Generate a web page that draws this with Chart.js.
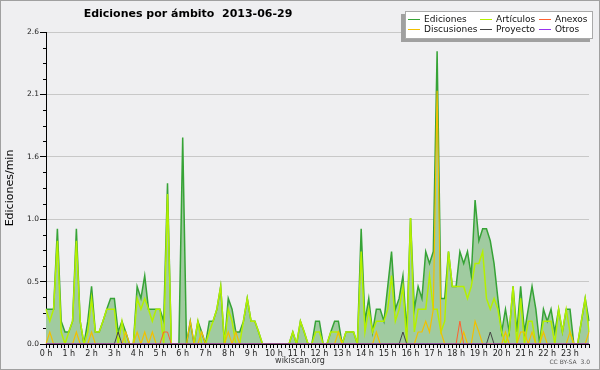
<!DOCTYPE html>
<html>
<head>
<meta charset="utf-8">
<script src="https://cdn.jsdelivr.net/npm/chart.js@4.4.1/dist/chart.umd.min.js"></script>
<style>
  html, body { margin: 0; padding: 0; background: #efeff1; }
  #wrap { position: relative; width: 600px; height: 370px; }
</style>
</head>
<body>
<div id="wrap"><canvas id="chart" width="600" height="370"></canvas></div>
<script>
// horas del eje X (una categoría cada 10 minutos)
const HOUR_LABELS = ['0 h', '1 h', '2 h', '3 h', '4 h', '5 h', '6 h', '7 h', '8 h', '9 h', '10 h', '11 h',
  '12 h', '13 h', '14 h', '15 h', '16 h', '17 h', '18 h', '19 h', '20 h', '21 h', '22 h', '23 h'];
const MINUTES = ['00', '10', '20', '30', '40', '50'];

// eje Y: marcas principales y sus etiquetas
const Y_TICKS = [0, 0.52, 1.04, 1.56, 2.08, 2.6];
const Y_TICK_LABELS = ['0.0', '0.5', '1.0', '1.6', '2.1', '2.6'];
const Y_MINOR_TICKS = [0.13, 0.26, 0.39, 0.65, 0.78, 0.91, 1.17, 1.3, 1.43, 1.69, 1.82, 1.95, 2.21, 2.34, 2.47];

// ediciones/min, una fila por hora
const EDICIONES = [
  0.29, 0.29, 0.29, 0.96, 0.19, 0.1,
  0.1, 0.19, 0.96, 0.19, 0, 0.19,
  0.48, 0.1, 0.1, 0.19, 0.29, 0.38,
  0.38, 0.1, 0.19, 0.1, 0, 0,
  0.48, 0.38, 0.57, 0.29, 0.29, 0.29,
  0.29, 0.19, 1.34, 0, 0, 0,
  1.72, 0, 0.19, 0, 0.19, 0.1,
  0, 0.19, 0.19, 0.29, 0.48, 0,
  0.38, 0.29, 0.1, 0.1, 0.19, 0.38,
  0.19, 0.19, 0.1, 0, 0, 0,
  0, 0, 0, 0, 0, 0.1,
  0, 0.19, 0.1, 0, 0, 0.19,
  0.19, 0, 0, 0.1, 0.19, 0.19,
  0, 0.1, 0.1, 0.1, 0, 0.96,
  0.19, 0.38, 0.1, 0.29, 0.29, 0.19,
  0.48, 0.77, 0.29, 0.38, 0.57, 0.1,
  1.05, 0.29, 0.48, 0.38, 0.77, 0.67,
  0.77, 2.44, 0.38, 0.38, 0.77, 0.48,
  0.48, 0.77, 0.67, 0.77, 0.57, 1.2,
  0.86, 0.96, 0.96, 0.86, 0.67, 0.38,
  0.1, 0.29, 0.1, 0.48, 0.1, 0.48,
  0.1, 0.29, 0.48, 0.29, 0, 0.29,
  0.19, 0.29, 0.1, 0.29, 0.1, 0.29,
  0.29, 0, 0, 0.19, 0.38, 0.19
];
const ARTICULOS = [
  0.29, 0.19, 0.29, 0.86, 0.1, 0,
  0.1, 0.19, 0.86, 0.19, 0, 0.1,
  0.38, 0.1, 0.1, 0.19, 0.29, 0.29,
  0.29, 0, 0.19, 0, 0, 0,
  0.38, 0.29, 0.38, 0.29, 0.19, 0.29,
  0.29, 0, 1.25, 0, 0, 0,
  0, 0, 0, 0, 0.19, 0,
  0, 0.1, 0.19, 0.29, 0.48, 0,
  0.29, 0.19, 0, 0, 0.19, 0.38,
  0.19, 0.19, 0.1, 0, 0, 0,
  0, 0, 0, 0, 0, 0.1,
  0, 0.19, 0.1, 0, 0, 0.1,
  0.1, 0, 0, 0.1, 0.1, 0.1,
  0, 0.1, 0.1, 0.1, 0, 0.77,
  0.1, 0.29, 0.1, 0.19, 0.19, 0.19,
  0.29, 0.57, 0.19, 0.29, 0.48, 0,
  1.05, 0.1, 0.29, 0.29, 0.29, 0.57,
  0.29, 0.29, 0.1, 0.19, 0.77, 0.48,
  0.48, 0.48, 0.48, 0.38, 0.48, 0.67,
  0.67, 0.77, 0.38, 0.29, 0.38, 0.29,
  0.1, 0, 0.1, 0.48, 0, 0.38,
  0, 0.19, 0.19, 0, 0, 0.19,
  0.19, 0.19, 0, 0.29, 0.1, 0.29,
  0.1, 0, 0, 0.19, 0.38, 0.1
];
const DISCUSIONES = [
  0, 0.1, 0, 0, 0, 0,
  0, 0, 0.1, 0, 0, 0,
  0.1, 0, 0, 0, 0, 0,
  0, 0, 0, 0.1, 0, 0,
  0.1, 0, 0.1, 0, 0.1, 0,
  0, 0, 0, 0, 0, 0,
  0, 0, 0.19, 0, 0, 0.1,
  0, 0, 0, 0, 0, 0,
  0.1, 0, 0.1, 0, 0, 0,
  0, 0, 0, 0, 0, 0,
  0, 0, 0, 0, 0, 0,
  0, 0, 0, 0, 0, 0,
  0, 0, 0, 0, 0, 0.1,
  0, 0, 0, 0, 0, 0,
  0, 0, 0, 0.1, 0, 0,
  0, 0, 0, 0, 0, 0,
  0, 0, 0.1, 0.1, 0.19, 0.1,
  0.29, 2.11, 0.1, 0, 0, 0,
  0, 0, 0.1, 0, 0, 0.19,
  0.1, 0, 0, 0, 0, 0,
  0, 0.1, 0, 0, 0, 0.1,
  0.1, 0, 0.1, 0, 0, 0.1,
  0, 0, 0, 0, 0, 0,
  0.1, 0, 0, 0, 0, 0.1
];
const ANEXOS = [
  0, 0, 0, 0, 0, 0,
  0, 0, 0, 0, 0, 0,
  0, 0, 0, 0, 0, 0,
  0, 0, 0, 0, 0, 0,
  0, 0, 0, 0, 0, 0,
  0, 0.1, 0.1, 0, 0, 0,
  0, 0, 0, 0, 0, 0,
  0, 0, 0, 0, 0, 0,
  0, 0, 0, 0, 0, 0,
  0, 0, 0, 0, 0, 0,
  0, 0, 0, 0, 0, 0,
  0, 0, 0, 0, 0, 0,
  0, 0, 0, 0, 0, 0,
  0, 0, 0, 0, 0, 0,
  0, 0, 0, 0, 0, 0,
  0, 0, 0, 0, 0, 0,
  0, 0, 0, 0, 0, 0,
  0, 0, 0, 0, 0, 0,
  0, 0.19, 0, 0, 0, 0,
  0, 0, 0, 0, 0, 0,
  0, 0, 0, 0, 0, 0,
  0, 0, 0, 0, 0, 0,
  0, 0, 0, 0, 0, 0,
  0, 0, 0, 0, 0, 0
];
const PROYECTO = [
  0, 0, 0, 0, 0, 0,
  0, 0, 0, 0, 0, 0,
  0, 0, 0, 0, 0, 0,
  0, 0.1, 0, 0, 0, 0,
  0, 0, 0, 0, 0, 0,
  0, 0, 0, 0, 0, 0,
  0, 0, 0, 0, 0, 0,
  0, 0, 0, 0, 0, 0,
  0, 0, 0, 0, 0, 0,
  0, 0, 0, 0, 0, 0,
  0, 0, 0, 0, 0, 0,
  0, 0, 0, 0, 0, 0,
  0, 0, 0, 0, 0, 0,
  0, 0, 0, 0, 0, 0,
  0, 0, 0, 0, 0, 0,
  0, 0, 0, 0, 0.1, 0,
  0, 0, 0, 0, 0, 0,
  0, 0, 0, 0, 0, 0,
  0, 0, 0, 0, 0, 0,
  0, 0, 0, 0.1, 0, 0,
  0, 0, 0, 0, 0, 0,
  0, 0, 0, 0, 0, 0,
  0, 0, 0, 0, 0, 0,
  0, 0, 0, 0, 0, 0
];
const OTROS = [
  0, 0, 0, 0, 0, 0,
  0, 0, 0, 0, 0, 0,
  0, 0, 0, 0, 0, 0,
  0, 0, 0, 0, 0, 0,
  0, 0, 0, 0, 0, 0,
  0, 0, 0, 0, 0, 0,
  0, 0, 0, 0, 0, 0,
  0, 0, 0, 0, 0, 0,
  0, 0, 0, 0, 0, 0,
  0, 0, 0, 0, 0, 0,
  0, 0, 0, 0, 0, 0,
  0, 0, 0, 0, 0, 0,
  0, 0, 0, 0, 0, 0,
  0, 0, 0, 0, 0, 0,
  0, 0, 0, 0, 0, 0,
  0, 0, 0, 0, 0, 0,
  0, 0, 0, 0, 0, 0,
  0, 0, 0, 0, 0, 0,
  0, 0, 0, 0, 0, 0,
  0, 0, 0, 0, 0, 0,
  0, 0, 0, 0, 0, 0,
  0, 0, 0, 0, 0, 0,
  0, 0, 0, 0, 0, 0,
  0, 0, 0, 0, 0, 0
];

// orden de la leyenda: por columnas, dos filas
const LEGEND_ORDER = ['Ediciones', 'Discusiones', 'Artículos', 'Proyecto', 'Anexos', 'Otros'];

const SLOTS = [];
HOUR_LABELS.forEach((h, hi) => MINUTES.forEach(m => SLOTS.push(hi + ':' + m)));

const FONT = '"DejaVu Sans", "Liberation Sans", sans-serif';
const BG = '#efeff1';

/**
 * fondo, título, pie, marcas menores, leyenda y borde
 */
const decorPlugin = {
  id: 'decor',
  beforeDraw(chart) {
    const ctx = chart.ctx;
    ctx.save();
    ctx.fillStyle = BG;
    ctx.fillRect(0, 0, chart.width, chart.height);
    ctx.restore();
  },
  afterDraw(chart) {
    const ctx = chart.ctx;
    const area = chart.chartArea;
    const y = chart.scales.y;
    ctx.save();

    // marcas menores del eje Y
    ctx.strokeStyle = '#000';
    ctx.lineWidth = 1;
    ctx.beginPath();
    Y_MINOR_TICKS.forEach(v => {
      const py = Math.round(y.getPixelForValue(v)) + 0.5;
      ctx.moveTo(area.left - 3, py);
      ctx.lineTo(area.left, py);
    });
    ctx.stroke();

    // título
    ctx.fillStyle = '#000';
    ctx.font = 'bold 11px ' + FONT;
    ctx.textAlign = 'center';
    ctx.textBaseline = 'middle';
    ctx.fillText('Ediciones por ámbito  2013-06-29', 188, 14);

    // pie
    ctx.font = '8px ' + FONT;
    ctx.fillStyle = '#333';
    ctx.fillText('wikiscan.org', 300, 361);
    ctx.font = '6px ' + FONT;
    ctx.textAlign = 'right';
    ctx.fillStyle = '#555';
    ctx.fillText('CC BY-SA  3.0', 590, 362);

    // leyenda
    ctx.fillStyle = '#a0a0a0';
    ctx.fillRect(401, 14, 189, 28);
    ctx.fillStyle = '#fff';
    ctx.fillRect(405, 11, 188, 28);
    ctx.strokeStyle = '#aaa';
    ctx.strokeRect(405.5, 11.5, 187, 27);
    const colX = [408, 480, 539];
    const rowY = [19.5, 29.5];
    ctx.font = '9px ' + FONT;
    ctx.textAlign = 'left';
    ctx.textBaseline = 'middle';
    LEGEND_ORDER.forEach((name, i) => {
      const ds = chart.data.datasets.find(d => d.label === name);
      const lx = colX[Math.floor(i / 2)];
      const ly = rowY[i % 2];
      ctx.strokeStyle = ds.borderColor;
      ctx.lineWidth = 1;
      ctx.beginPath();
      ctx.moveTo(lx, ly);
      ctx.lineTo(lx + 12, ly);
      ctx.stroke();
      ctx.fillStyle = '#111';
      ctx.fillText(name, lx + 16, ly);
    });

    // borde exterior
    ctx.strokeStyle = '#a0a0a0';
    ctx.lineWidth = 1;
    ctx.strokeRect(0.5, 0.5, chart.width - 1, chart.height - 1);
    ctx.restore();
  }
};

function lineSet(label, data, color, width, order, extra) {
  return Object.assign({
    label,
    data,
    borderColor: color,
    borderWidth: width,
    pointRadius: 0,
    tension: 0,
    fill: false,
    order,
  }, extra || {});
}

const ctx = document.getElementById('chart').getContext('2d');
new Chart(ctx, {
  type: 'line',
  data: {
    labels: SLOTS,
    datasets: [
      lineSet('Otros', OTROS, '#9933ee', 1, 1),
      lineSet('Proyecto', PROYECTO, '#444444', 1, 2),
      lineSet('Anexos', ANEXOS, '#ff6030', 1, 3),
      lineSet('Discusiones', DISCUSIONES, '#f2c000', 1.2, 4),
      lineSet('Artículos', ARTICULOS, '#b4f000', 1.5, 5),
      lineSet('Ediciones', EDICIONES, '#36a336', 1.5, 6, { fill: 'origin', backgroundColor: '#a0cba0' }),
    ],
  },
  options: {
    responsive: false,
    animation: false,
    devicePixelRatio: 1,
    layout: { padding: { left: 0, right: 11, top: 32, bottom: 0 } },
    plugins: {
      legend: { display: false },
      title: { display: false },
      tooltip: { enabled: false },
    },
    scales: {
      x: {
        type: 'category',
        offset: false,
        z: 1,
        border: { display: true, color: '#000', width: 1 },
        grid: { drawOnChartArea: false, drawTicks: true, tickLength: 4, tickColor: '#000' },
        ticks: {
          autoSkip: false,
          maxRotation: 0,
          minRotation: 0,
          padding: 1,
          color: '#222',
          font: { family: FONT, size: 8 },
          callback: (v, i) => (i % 6 === 0 ? HOUR_LABELS[i / 6] : ''),
        },
        afterFit: (scale) => { scale.height = 26; },
      },
      y: {
        min: 0,
        max: 2.6,
        border: { display: true, color: '#000', width: 1 },
        grid: { color: '#c8c8c8', tickColor: '#000', tickLength: 6 },
        afterBuildTicks: (scale) => { scale.ticks = Y_TICKS.map(v => ({ value: v })); },
        ticks: {
          padding: 1,
          color: '#222',
          font: { family: FONT, size: 7.5 },
          callback: (v, i) => Y_TICK_LABELS[i],
        },
        title: {
          display: true,
          text: 'Ediciones/min',
          color: '#000',
          font: { family: FONT, size: 11 },
          padding: { top: 4, bottom: 0 },
        },
        afterFit: (scale) => { scale.width = 46; },
      },
    },
  },
  plugins: [decorPlugin],
});
</script>
</body>
</html>
